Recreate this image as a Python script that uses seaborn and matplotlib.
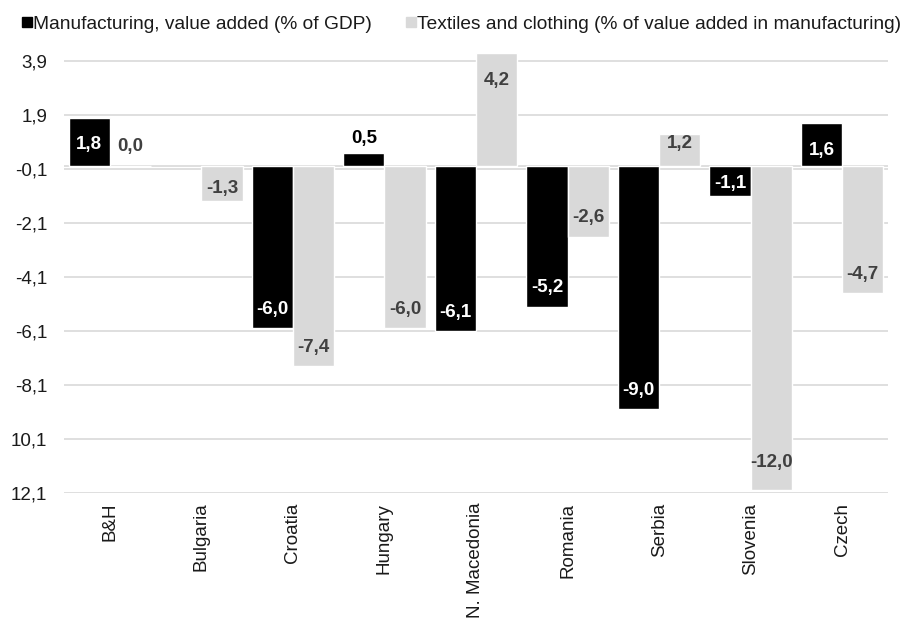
import numpy as np
import pandas as pd
import matplotlib
matplotlib.use("Agg")
import matplotlib.pyplot as plt
from matplotlib.lines import Line2D
import seaborn as sns

countries = ["B&H", "Bulgaria", "Croatia", "Hungary", "N. Macedonia",
             "Romania", "Serbia", "Slovenia", "Czech"]
manufacturing = [1.8, np.nan, -6.0, 0.5, -6.1, -5.2, -9.0, -1.1, 1.6]
textiles = [0.0, -1.3, -7.4, -6.0, 4.2, -2.6, 1.2, -12.0, -4.7]
series_names = ["Manufacturing, value added (% of GDP)",
                "Textiles and clothing (% of value added in manufacturing)"]
ytick_values = [-12.1, -10.1, -8.1, -6.1, -4.1, -2.1, -0.1, 1.9, 3.9]
ytick_labels = ["12,1", "10,1", "-8,1", "-6,1", "-4,1", "-2,1", "-0,1", "1,9", "3,9"]

BLACK = "#000000"
GREY = "#D9D9D9"
LABEL_GREY = "#404040"
GRID = "#D9D9D9"
TEXT = "#1a1a1a"
FS = 13.5
YMIN, YMAX = -12.1, 4.2

sns.set_theme(style="white")
plt.rcParams["font.family"] = ["Liberation Sans", "DejaVu Sans"]

df = pd.DataFrame({
    "country": countries * 2,
    "value": manufacturing + textiles,
    "series": [series_names[0]] * len(countries) + [series_names[1]] * len(countries),
})

fig = plt.figure(figsize=(9.11, 6.23), dpi=100)
ax = fig.add_axes([64 / 911, 1 - 493 / 623, (888 - 64) / 911, (493 - 53) / 623])

sns.barplot(data=df, x="country", y="value", hue="series",
            palette=[BLACK, GREY], width=0.9, gap=0, saturation=1,
            errorbar=None, legend=False, ax=ax)

ax.set_ylim(YMIN, YMAX)
ax.set_xlim(-0.5, len(countries) - 0.5)
ax.set_yticks(ytick_values)
ax.set_yticklabels(ytick_labels)
ax.set_xlabel("")
ax.set_ylabel("")
for s in ax.spines.values():
    s.set_visible(False)
for yv in ytick_values:
    ax.axhline(yv, color=GRID, lw=1.2, zorder=0)
ax.axhline(0, color=GRID, lw=1.2, zorder=0)
ax.tick_params(axis="y", length=0, pad=12, labelsize=FS, labelcolor=TEXT)
ax.tick_params(axis="x", length=0, pad=7, labelsize=FS, labelcolor=TEXT)
plt.setp(ax.get_xticklabels(), rotation=90, va="top", ha="center")
ax.set_axisbelow(True)


def label_offset(v):
    # pixel offset of the value label relative to the bar end
    if abs(v) < 1:
        return 20 - 12 * abs(v)
    if abs(v) < 1.5:
        return -10 if v > 0 else 13
    if v > 0:
        return -27
    # keep labels of the longest bars clear of the bottom edge
    return 28 if v - YMIN < 1 else 19


for cont, vals, inside_color in zip(ax.containers, [manufacturing, textiles],
                                    ["white", LABEL_GREY]):
    for patch in cont.patches:
        xc = patch.get_x() + patch.get_width() / 2
        idx = int(round(xc))
        v = vals[idx]
        if np.isnan(v):
            continue
        off = label_offset(v)
        color = inside_color
        if abs(v) < 1 and inside_color == "white":
            color = BLACK
        ax.annotate(f"{v:.1f}".replace(".", ","), xy=(xc, v),
                    xytext=(0, off * 0.72), textcoords="offset points",
                    ha="center", va="center", fontsize=FS,
                    fontweight="bold", color=color)

# two legend entries, each placed on its own along the top edge
for name, color, x0, pad in [(series_names[0], BLACK, 20, 0.0),
                             (series_names[1], GREY, 404, 0.0)]:
    h = Line2D([], [], marker="s", ls="", markersize=6.5, color=color)
    fig.legend([h], [name], loc="center left", bbox_to_anchor=(x0 / 911, 1 - 24 / 623),
               frameon=False, fontsize=13.8, handletextpad=pad, handlelength=0.7,
               borderpad=0, borderaxespad=0, labelcolor=TEXT)

fig.savefig("out.png", dpi=100)
